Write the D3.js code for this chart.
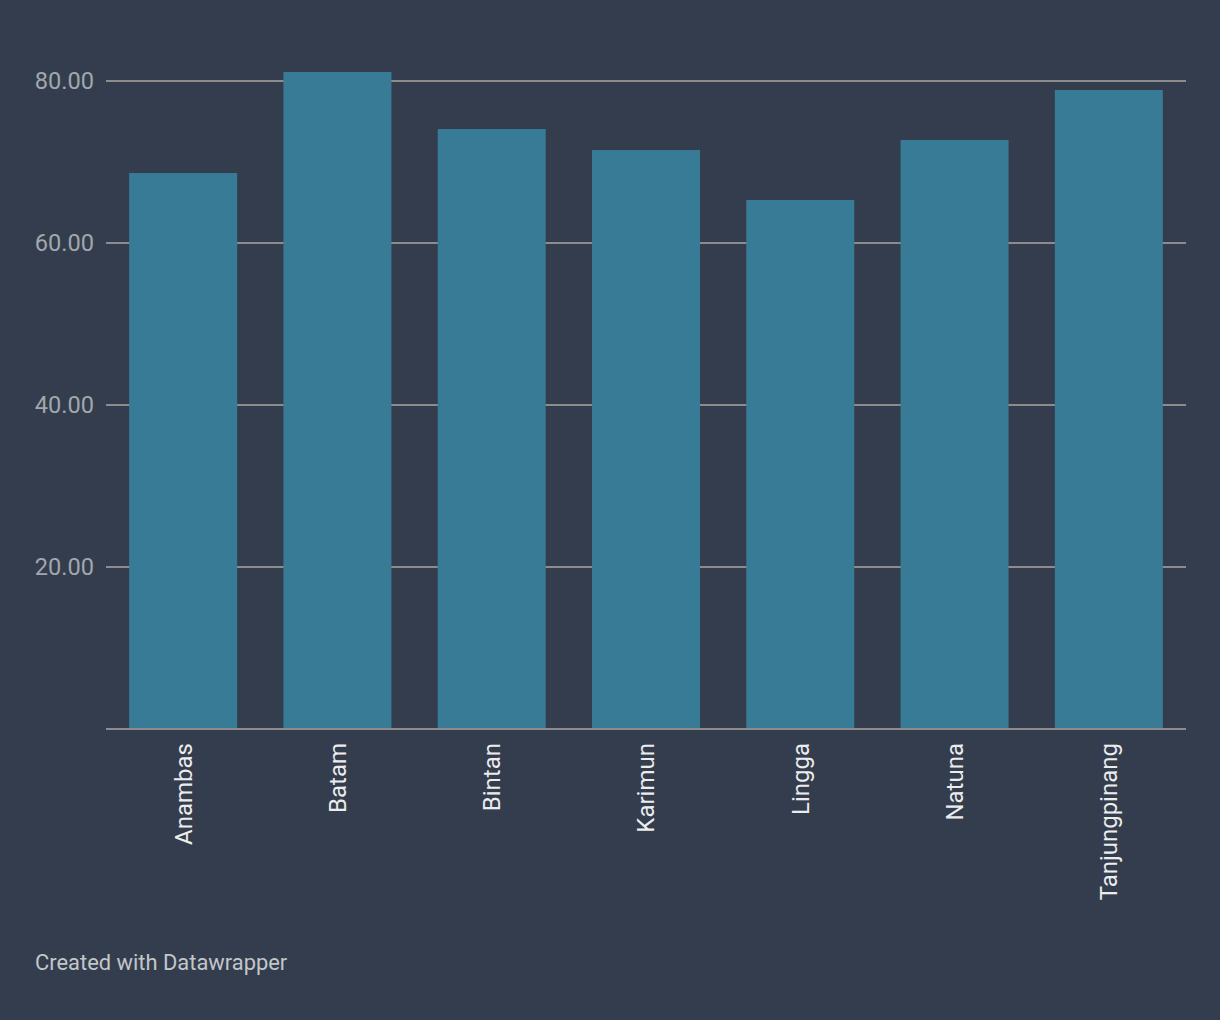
<!DOCTYPE html>
<html>
<head>
<meta charset="utf-8">
<script src="https://cdn.jsdelivr.net/npm/d3@7"></script>
<style>
  html, body { margin: 0; padding: 0; background: #333d4d; }
  svg { display: block; }
</style>
</head>
<body>
<svg id="chart" width="1220" height="1020"></svg>
<script>
const categories = ["Anambas", "Batam", "Bintan", "Karimun", "Lingga", "Natuna", "Tanjungpinang"];
const values = [68.64, 81.11, 74.07, 71.48, 65.31, 72.72, 78.89];
const yTicks = [20, 40, 60, 80];
const footerText = "Created with Datawrapper";

const W = 1220, H = 1020;
const svg = d3.select("#chart");
svg.append("rect").attr("width", W).attr("height", H).attr("fill", "#333d4d");

const plotLeft = 106, plotRight = 1186, plotTop = 81, plotBottom = 729;
const x = d3.scaleBand().domain(categories).range([plotLeft, plotRight]).paddingInner(0.3).paddingOuter(0.15);
const y = d3.scaleLinear().domain([0, 80]).range([plotBottom, plotTop]);

// grid lines
svg.append("g").selectAll("line").data(yTicks).join("line")
  .attr("x1", plotLeft).attr("x2", plotRight)
  .attr("y1", d => y(d)).attr("y2", d => y(d))
  .attr("stroke", "#8c8c8c").attr("stroke-width", 2);

// y tick labels
svg.append("g").selectAll("text").data(yTicks).join("text")
  .attr("x", 94).attr("y", d => y(d))
  .attr("dy", "0.35em")
  .attr("text-anchor", "end")
  .attr("font-family", "Roboto")
  .attr("font-size", 23.6)
  .attr("fill", "#a2a7ad")
  .text(d => d3.format(".2f")(d));

// bars
svg.append("g").selectAll("rect").data(categories).join("rect")
  .attr("x", d => x(d))
  .attr("width", x.bandwidth())
  .attr("y", (d, i) => y(values[i]))
  .attr("height", (d, i) => y(0) - y(values[i]))
  .attr("fill", "#387b96");

// baseline
svg.append("line")
  .attr("x1", plotLeft).attr("x2", plotRight)
  .attr("y1", y(0)).attr("y2", y(0))
  .attr("stroke", "#8c8c8c").attr("stroke-width", 2);

// x labels rotated
svg.append("g").selectAll("text").data(categories).join("text")
  .attr("transform", d => `translate(${x(d) + x.bandwidth() / 2},743) rotate(-90)`)
  .attr("dy", "0.35em")
  .attr("text-anchor", "end")
  .attr("font-family", "Roboto")
  .attr("font-size", 24)
  .attr("fill", "#ececec")
  .text(d => d);

// footer
svg.append("text")
  .attr("x", 35).attr("y", 970)
  .attr("font-family", "Roboto")
  .attr("font-size", 21.9)
  .attr("fill", "#c3c6ca")
  .text(footerText);
</script>
</body>
</html>
